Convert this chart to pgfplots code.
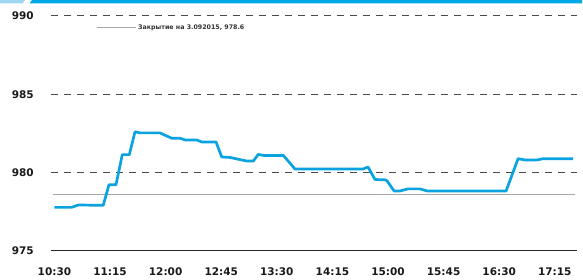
\documentclass[border=0pt]{standalone}
\usepackage{fontspec}
\setmainfont{DejaVu Sans}
\usepackage{pgfplots}
\pgfplotsset{compat=1.18}
\definecolor{lineblue}{HTML}{0AA3E0}
\definecolor{stripblue}{HTML}{00A9E6}
\definecolor{lightstrip}{HTML}{9FD6F2}
\definecolor{refgray}{HTML}{A8A8A8}
\definecolor{gridgray}{HTML}{4A4A4A}
\definecolor{labelcol}{HTML}{1A1A1A}
\begin{document}
\begin{tikzpicture}
\useasboundingbox (-51pt,-28.3pt) rectangle (532pt,250.7pt);
\fill[lightstrip] (-51pt,250.7pt) -- (-26pt,250.7pt) -- (-28.5pt,247.2pt) -- (-51pt,247.2pt) -- cycle;
\fill[stripblue] (-19pt,250.7pt) -- (531pt,250.7pt) -- (531pt,247.2pt) -- (-21.5pt,247.2pt) -- cycle;
\begin{axis}[
  at={(0,0)}, anchor=south west,
  scale only axis, width=526pt, height=234.7pt,
  xmin=-2.8, xmax=423, ymin=975, ymax=990,
  clip=false,
  axis x line*=bottom, axis y line*=left,
  x axis line style={-, draw=black!85, line width=1.3pt},
  y axis line style={draw=none},
  xtick={0,45,...,405},
  xticklabels={10:30,11:15,12:00,12:45,13:30,14:15,15:00,15:45,16:30,17:15},
  ytick={975,980,985,990}, yticklabels={975,980,985,990},
  major tick length=0pt, tick style={draw=none},
  ymajorgrids, grid style={gridgray, line width=1pt, dash pattern=on 7pt off 6pt},
  xticklabel style={anchor=base, inner sep=0pt, yshift=-24.8pt, font=\fontsize{10.5}{12}\selectfont\bfseries, text=labelcol},
  yticklabel style={anchor=base east, inner sep=0pt, xshift=-17pt, yshift=-3.85pt, font=\fontsize{10.5}{12}\selectfont\bfseries, text=labelcol},
  legend style={draw=none, fill=none, inner sep=0pt, at={(rel axis cs:0.085,0.950)}, anchor=west,
    font=\fontsize{6.3}{7}\selectfont\bfseries, text=black!80, cells={anchor=west}},
  legend image code/.code={\draw[#1] (0pt,0pt) -- (39pt,0pt);},
]
\addplot[refgray, line width=1.3pt] coordinates {(-1.2,978.6) (421.5,978.6)};
\addlegendentry{Закрытие на 3.092015, 978.6}
\addplot[lineblue, line width=2.7pt, line join=round, forget plot] coordinates {
(0,977.77) (13.9,977.77) (19.3,977.92) (39.5,977.90) (44.1,979.21) (49.8,979.21)
(54.9,981.14) (60.6,981.14) (65.2,982.60) (69.2,982.53) (85.4,982.53) (89.5,982.38)
(94.9,982.19) (101.6,982.19) (105.7,982.08) (115.1,982.08) (119.2,981.95) (130.8,981.95)
(135.4,980.99) (142.1,980.96) (155.6,980.73) (161.0,980.73) (165.0,981.16) (169.1,981.09)
(185.3,981.09) (194.7,980.22) (249.8,980.22) (253.8,980.35) (259.5,979.55) (267.6,979.53)
(269.2,979.47) (274.9,978.82) (279.8,978.82) (286.2,978.95) (295.9,978.95) (301.6,978.82)
(365.6,978.82) (375.3,980.88) (381,980.80) (390.7,980.80) (395.5,980.88) (419.8,980.88)
};
\end{axis}
\end{tikzpicture}
\end{document}
